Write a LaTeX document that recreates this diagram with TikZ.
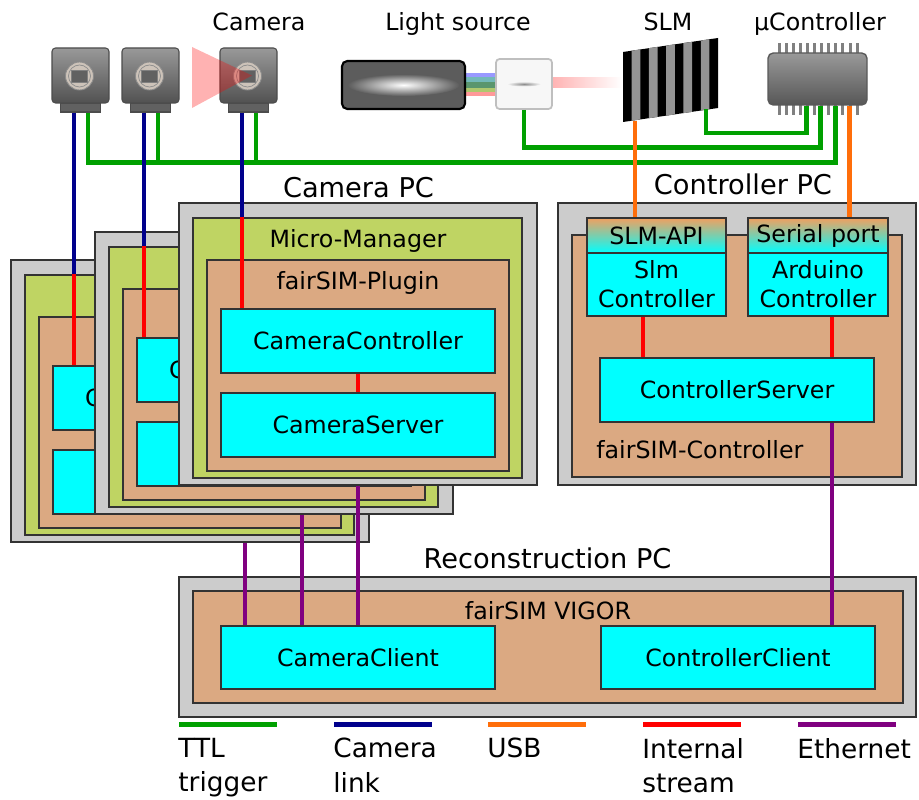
\documentclass[tikz,border=0pt]{standalone}
\usepackage{fontspec}
\setmainfont{DejaVu Sans}
\usetikzlibrary{fit,calc}

\definecolor{pcgray}{RGB}{204,204,204}
\definecolor{mmgreen}{RGB}{191,212,99}
\definecolor{fstan}{RGB}{219,169,130}
\definecolor{clscyan}{RGB}{0,255,255}
\definecolor{apiorange}{RGB}{240,160,96}
\definecolor{ttlgreen}{RGB}{0,160,0}
\definecolor{linkblue}{RGB}{0,0,140}
\definecolor{usborange}{RGB}{255,110,10}
\definecolor{ethpurple}{RGB}{128,0,128}
\definecolor{devgray}{RGB}{92,92,92}
\definecolor{lensbeige}{RGB}{205,195,185}
\definecolor{beamgreen}{RGB}{90,150,110}
\definecolor{beamyellow}{RGB}{175,200,110}

\tikzset{
  txt/.style={font=\fontsize{13.5}{16.5}\selectfont, inner sep=0pt},
  head/.style={font=\fontsize{15.5}{19}\selectfont, inner sep=0pt, anchor=base},
  legtxt/.style={font=\fontsize{15}{19.5}\selectfont, align=left, inner sep=0pt, anchor=north west},
  layer/.style={draw=black!80, line width=0.85pt, inner sep=0pt, txt},
  cell/.style 2 args={minimum width=#1*0.02cm, minimum height=#2*0.02cm},
  pcbox/.style={layer, fill=pcgray},
  mmbox/.style={layer, fill=mmgreen},
  fsbox/.style={layer, fill=fstan},
  clsbox/.style={layer, fill=clscyan, align=center},
  apibox/.style={layer, top color=apiorange, bottom color=clscyan},
  wire/.style={line width=2.8pt},
  ttl/.style={wire, draw=ttlgreen},
  camlink/.style={wire, draw=linkblue},
  usb/.style={wire, draw=usborange},
  intern/.style={wire, draw=red},
  eth/.style={wire, draw=ethpurple},
  cambody/.style={draw=black!70, line width=0.6pt, rounded corners=2pt, top color=black!40,
    bottom color=black!68, cell={57}{55}, inner sep=0pt},
  cambase/.style={draw=black!70, line width=0.6pt, fill=black!62, cell={40}{9}, inner sep=0pt},
}

\begin{document}
\begin{tikzpicture}[x=0.02cm,y=-0.02cm]
\useasboundingbox (0,0) rectangle (919,800);

% hardware labels
\node[txt, anchor=base] (tcam) at (259,31) {Camera};
\node[txt, anchor=base] (tlight) at (458,31) {Light source};
\node[txt, anchor=base] (tslm) at (668,31) {SLM};
\node[txt, anchor=base] (tchip) at (820,31) {µController};

% cameras
\foreach \i/\cx in {1/80.5, 2/150.5, 3/248.5} {
  \node[cambase] (base\i) at (\cx,107.5) {};
  \node[cambody] (cam\i) at (\cx,75.5) {};
  \filldraw[fill=lensbeige, draw=black!45, line width=0.5pt] ($(cam\i.center)+(-1,0.5)$) circle[radius=14];
  \draw[black!45, line width=0.4pt] ($(cam\i.center)+(-1,0.5)$) circle[radius=11];
  \filldraw[fill=black!62, draw=black!50, line width=0.4pt] ($(cam\i.center)+(-9,-5.5)$) rectangle ++(16,12);
}
\fill[red, opacity=0.3] (192,47) -- (252,75.5) -- (192,108) -- cycle;

% light source
\fill[blue!40] (465,73) rectangle (497,77);
\fill[teal!55] (465,77) rectangle (497,82);
\fill[beamgreen] (465,82) rectangle (497,88);
\fill[beamyellow] (465,88) rectangle (497,92);
\fill[red!40] (465,92) rectangle (497,96);
\node[draw=black, line width=1.2pt, fill=devgray, rounded corners=3pt, cell={123}{48},
  inner sep=0pt] (lamp) at (403.5,85) {};
\shade[inner color=white, outer color=devgray] (lamp.center) ellipse[x radius=56, y radius=11];
\shade[left color=red!30, right color=white] (552,78) rectangle (622,88);
\node[draw=black!25, line width=1pt, fill=black!3, rounded corners=2pt, cell={56}{50},
  inner sep=0pt] (lsbox) at (524,84) {};
\shade[inner color=black!45, outer color=black!3] (lsbox.center) ellipse[x radius=17, y radius=2.5];

% SLM
\fill[black] (623,52) -- (718,38) -- (718,108) -- (623,122) -- cycle;
\foreach \k in {1,3,...,9}
  \fill[black!42] (623+\k*8.64,52-\k*1.27) -- ++(8.64,-1.27) -- ++(0,70) -- ++(-8.64,1.27) -- cycle;
\coordinate (slmusb) at (635,121);
\coordinate (slmttl) at (706,109);

% microcontroller
\foreach \p in {0,...,11} {
  \fill[black!50] (777.5+\p*7.1,43) rectangle ++(3,10);
  \fill[black!50] (777.5+\p*7.1,105) rectangle ++(3,10);
}
\node[draw=black!65, line width=0.8pt, rounded corners=3pt, top color=black!40, bottom color=black!66,
  cell={99}{52}, inner sep=0pt] (chip) at (817.5,79) {};
\coordinate (pinS) at ($(chip.south west)+(39.4,0)$);
\coordinate (pinL) at ($(chip.south west)+(53.6,0)$);
\coordinate (pinC) at ($(chip.south west)+(67.8,0)$);
\coordinate (pinU) at ($(chip.south west)+(82,0)$);

% camera PCs, back to front
\foreach \s/\dx/\dy/\srv in {b/-168/57/{}, m/-84/29/{}, f/0/0/CameraServer} {
  \node[pcbox, fit={(179+\dx,203+\dy) (537+\dx,485+\dy)}] (pc\s) {};
  \node[mmbox, fit={(193+\dx,218+\dy) (522+\dx,478+\dy)}] (mm\s) {};
  \node[fsbox, fit={(207+\dx,260+\dy) (509+\dx,471+\dy)}] (fs\s) {};
  \node[clsbox, cell={274}{64}] (cc\s) at (358+\dx,341+\dy) {CameraController};
  \node[clsbox, cell={274}{64}] (cs\s) at (358+\dx,425+\dy) {\srv};
  \draw[intern] (cc\s) -- (cs\s);
}
\node[txt, anchor=base] (mmlf) at (358,248) {Micro-Manager};
\node[txt, anchor=base] (fslf) at (358,290) {fairSIM-Plugin};

% controller PC
\node[pcbox, fit={(558,203) (916,485)}] (ctlpc) {};
\node[fsbox, fit={(572,235) (902,477)}] (fsctl) {};
\node[apibox, cell={139}{35}] (slmapi) at (656.5,235.5) {SLM-API};
\node[clsbox, cell={139}{63}] (slmctl) at (656.5,284.5) {Slm\\Controller};
\node[apibox, cell={140}{35}] (serial) at (818,235.5) {Serial port};
\node[clsbox, cell={140}{63}] (arduino) at (818,284.5) {Arduino\\Controller};
\node[clsbox, cell={274}{64}] (ctlsrv) at (737,390) {ControllerServer};
\node[txt, anchor=base west] (fsctll) at (596,458) {fairSIM-Controller};

% reconstruction PC
\node[pcbox, fit={(179,577) (916,717)}] (recpc) {};
\node[fsbox, fit={(193,591) (903,703)}] (vigor) {};
\node[clsbox, cell={274}{63}] (camcli) at (358,657.5) {CameraClient};
\node[clsbox, cell={274}{63}] (ctlcli) at (738,657.5) {ControllerClient};
\node[txt, anchor=base] (vigorl) at (548,619) {fairSIM VIGOR};

\node[head] (hcam) at (358.5,198) {Camera PC};
\node[head] (hctl) at (743,195) {Controller PC};
\node[head] (hrec) at (547.5,568) {Reconstruction PC};

% trigger lines
\draw[ttl] ($(base1.south)+(7.5,0)$) -- ++(0,50) -| (pinC);
\foreach \i in {2,3}
  \draw[ttl] ($(base\i.south)+(7.5,0)$) -- ++(0,50);
\draw[ttl] (lsbox.south) -- ++(0,38) -| (pinL);
\draw[ttl] (slmttl) -- ++(0,24) -| (pinS);

% camera links
\foreach \i/\s in {1/b, 2/m, 3/f} {
  \coordinate (cl\i) at ($(base\i.south)+(-6.5,0)$);
  \draw[camlink] (cl\i) -- (cl\i |- mm\s.north);
  \draw[intern] (cl\i |- mm\s.north) -- (cl\i |- cc\s.north);
}

% usb
\draw[usb] (slmusb) -- (slmusb |- slmapi.north);
\draw[usb] (pinU) -- (pinU |- serial.north);

% controller internals
\coordinate (r1) at ($(slmctl.south)+(-13.5,0)$);
\coordinate (r2) at ($(arduino.south)+(14,0)$);
\draw[intern] (r1) -- (r1 |- ctlsrv.north);
\draw[intern] (r2) -- (r2 |- ctlsrv.north);

% ethernet
\foreach \s/\ex in {b/55, m/28, f/0} {
  \coordinate (e\s) at ($(pc\s.south)+(\ex,0)$);
  \draw[eth] (e\s) -- (e\s |- camcli.north);
}
\coordinate (ec) at ($(ctlsrv.south)+(95,0)$);
\draw[eth] (ec) -- (ec |- ctlcli.north);

% legend
\foreach \k/\st/\x/\txt in {1/ttl/179/{TTL\\trigger}, 2/camlink/334/{Camera\\link},
    3/usb/488/{USB}, 4/intern/643/{Internal\\stream}, 5/eth/798/{Ethernet}} {
  \draw[\st] (\x,724.5) -- ++(98,0);
  \node[legtxt] (leg\k) at (\x-1,738) {\txt};
}
\end{tikzpicture}
\end{document}
